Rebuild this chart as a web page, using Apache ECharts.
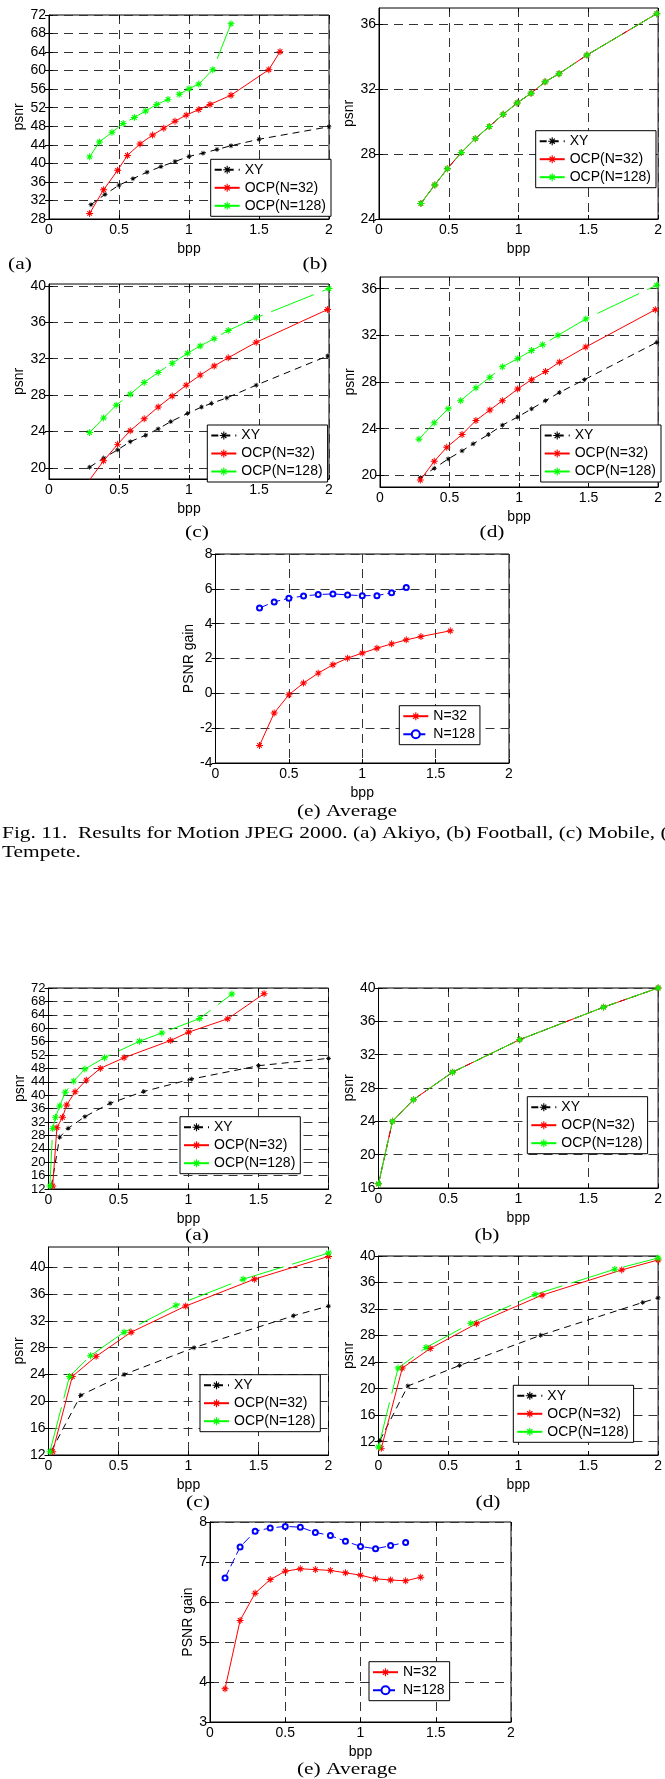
<!DOCTYPE html>
<html>
<head>
<meta charset="utf-8">
<script src="https://cdn.jsdelivr.net/npm/echarts@6/dist/echarts.min.js"></script>
<style>
  html, body { margin: 0; padding: 0; background: #fff; }
  #chart { width: 665px; height: 1779px; }
</style>
</head>
<body>
<div id="chart"></div>
<script>
// ---------- Fig. 11: Motion JPEG 2000 ----------
// (a) Akiyo
const m11a_xy_bpp    = [0.3, 0.4, 0.5, 0.6, 0.7, 0.8, 0.9, 1.0, 1.1, 1.2, 1.3, 1.5, 2.0];
const m11a_xy_psnr   = [31.1, 33.3, 35.3, 36.7, 38.1, 39.3, 40.4, 41.5, 42.2, 43.0, 43.8, 45.2, 47.9];
const m11a_n32_bpp   = [0.29, 0.39, 0.49, 0.56, 0.65, 0.74, 0.82, 0.9, 0.98, 1.07, 1.15, 1.3, 1.57, 1.65];
const m11a_n32_psnr  = [29.2, 34.3, 38.5, 41.7, 44.2, 46.1, 47.6, 49.1, 50.4, 51.6, 52.7, 54.7, 60.2, 64.1];
const m11a_n128_bpp  = [0.29, 0.36, 0.45, 0.53, 0.61, 0.69, 0.77, 0.85, 0.93, 1.0, 1.07, 1.17, 1.3];
const m11a_n128_psnr = [41.4, 44.6, 46.7, 48.6, 49.9, 51.3, 52.7, 53.8, 54.9, 56.1, 57.1, 60.2, 70.1];
// (b) Football: the three coders coincide
const m11b_bpp  = [0.3, 0.4, 0.49, 0.59, 0.69, 0.79, 0.89, 0.99, 1.09, 1.19, 1.29, 1.49, 1.99];
const m11b_psnr = [24.96, 26.1, 27.1, 28.1, 28.95, 29.7, 30.45, 31.15, 31.75, 32.45, 32.95, 34.1, 36.65];
// (c) Mobile
const m11c_xy_bpp    = [0.29, 0.39, 0.49, 0.58, 0.69, 0.78, 0.87, 0.99, 1.09, 1.16, 1.27, 1.48, 1.99];
const m11c_xy_psnr   = [20.1, 21.1, 22.0, 22.9, 23.6, 24.3, 25.1, 26.0, 26.7, 27.1, 27.7, 29.1, 32.3];
const m11c_n32_bpp   = [0.29, 0.39, 0.49, 0.58, 0.68, 0.78, 0.88, 0.98, 1.08, 1.18, 1.28, 1.48, 1.99];
const m11c_n32_psnr  = [18.7, 20.8, 22.6, 24.1, 25.4, 26.7, 27.9, 29.1, 30.2, 31.2, 32.1, 33.8, 37.4];
const m11c_n128_bpp  = [0.29, 0.39, 0.48, 0.58, 0.68, 0.78, 0.88, 0.99, 1.08, 1.18, 1.28, 1.48, 2.0];
const m11c_n128_psnr = [23.9, 25.5, 26.9, 28.1, 29.4, 30.5, 31.5, 32.6, 33.4, 34.2, 35.1, 36.5, 39.7];
// (d) Tempete
const m11d_xy_bpp    = [0.29, 0.39, 0.49, 0.59, 0.67, 0.78, 0.88, 0.99, 1.09, 1.19, 1.29, 1.47, 1.99];
const m11d_xy_psnr   = [19.8, 20.6, 21.4, 22.1, 22.7, 23.5, 24.3, 25.0, 25.7, 26.4, 27.1, 28.2, 31.4];
const m11d_n32_bpp   = [0.29, 0.39, 0.48, 0.59, 0.69, 0.79, 0.88, 0.99, 1.09, 1.19, 1.29, 1.48, 1.98];
const m11d_n32_psnr  = [19.6, 21.2, 22.4, 23.5, 24.7, 25.6, 26.4, 27.4, 28.2, 28.9, 29.7, 31.0, 34.2];
const m11d_n128_bpp  = [0.28, 0.39, 0.49, 0.58, 0.69, 0.79, 0.88, 0.99, 1.09, 1.17, 1.28, 1.48, 1.99];
const m11d_n128_psnr = [23.1, 24.5, 25.7, 26.4, 27.5, 28.4, 29.3, 30.0, 30.7, 31.2, 32.0, 33.4, 36.3];
// (e) Average PSNR gain over XY
const m11e_n32_bpp   = [0.3, 0.4, 0.5, 0.6, 0.7, 0.8, 0.9, 1.0, 1.1, 1.2, 1.3, 1.4, 1.6];
const m11e_n32_gain  = [-2.99, -1.13, -0.08, 0.59, 1.16, 1.64, 2.02, 2.31, 2.59, 2.84, 3.07, 3.26, 3.59];
const m11e_n128_bpp  = [0.3, 0.4, 0.5, 0.6, 0.7, 0.8, 0.9, 1.0, 1.1, 1.2, 1.3];
const m11e_n128_gain = [4.9, 5.25, 5.46, 5.59, 5.67, 5.71, 5.65, 5.61, 5.61, 5.78, 6.07];

// ---------- Fig. 12 ----------
// (a)
const m12a_xy_bpp    = [0.02, 0.08, 0.14, 0.26, 0.44, 0.68, 1.02, 1.5, 2.0];
const m12a_xy_psnr   = [12.7, 27.5, 30.1, 33.6, 37.6, 41.1, 44.8, 48.8, 51.0];
const m12a_n32_bpp   = [0.03, 0.06, 0.1, 0.13, 0.19, 0.27, 0.37, 0.54, 0.87, 1.0, 1.28, 1.54];
const m12a_n32_psnr  = [12.9, 30.3, 33.4, 37.1, 41.0, 44.5, 48.0, 51.2, 56.3, 58.8, 62.8, 70.3];
const m12a_n128_bpp  = [0.01, 0.03, 0.05, 0.08, 0.12, 0.18, 0.26, 0.4, 0.65, 0.81, 1.08, 1.31];
const m12a_n128_psnr = [12.9, 30.1, 33.4, 36.8, 40.9, 44.2, 47.8, 51.2, 56.1, 58.6, 62.9, 70.2];
// (b) the three coders coincide
const m12b_bpp  = [0, 0.1, 0.25, 0.53, 1.01, 1.61, 2.0];
const m12b_psnr = [16.5, 24.0, 26.6, 29.9, 33.8, 37.7, 40.0];
// (c)
const m12c_xy_bpp    = [0.02, 0.23, 0.54, 1.04, 1.75, 2.0];
const m12c_xy_psnr   = [12.6, 20.9, 24.0, 28.0, 32.75, 34.2];
const m12c_n32_bpp   = [0.03, 0.17, 0.34, 0.59, 0.98, 1.47, 2.0];
const m12c_n32_psnr  = [12.5, 23.7, 26.7, 30.3, 34.2, 38.2, 41.6];
const m12c_n128_bpp  = [0.01, 0.15, 0.3, 0.54, 0.91, 1.39, 2.0];
const m12c_n128_psnr = [12.5, 23.7, 26.8, 30.3, 34.3, 38.2, 42.1];
// (d)
const m12d_xy_bpp    = [0.01, 0.21, 0.58, 1.16, 1.89, 2.0];
const m12d_xy_psnr   = [12.2, 20.4, 23.5, 28.05, 33.0, 33.7];
const m12d_n32_bpp   = [0.02, 0.17, 0.37, 0.7, 1.17, 1.74, 2.0];
const m12d_n32_psnr  = [11.0, 23.1, 26.05, 29.8, 34.1, 37.9, 39.4];
const m12d_n128_bpp  = [0.0, 0.14, 0.34, 0.66, 1.12, 1.69, 2.0];
const m12d_n128_psnr = [11.2, 23.1, 26.2, 29.85, 34.2, 38.0, 39.7];
// (e) Average PSNR gain
const m12e_n32_bpp   = [0.1, 0.2, 0.3, 0.4, 0.5, 0.6, 0.7, 0.8, 0.9, 1.0, 1.1, 1.2, 1.3, 1.4];
const m12e_n32_gain  = [3.83, 5.54, 6.22, 6.56, 6.77, 6.83, 6.81, 6.79, 6.73, 6.67, 6.58, 6.55, 6.53, 6.62];
const m12e_n128_bpp  = [0.1, 0.2, 0.3, 0.4, 0.5, 0.6, 0.7, 0.8, 0.9, 1.0, 1.1, 1.2, 1.3];
const m12e_n128_gain = [6.6, 7.375, 7.77, 7.85, 7.89, 7.87, 7.74, 7.66, 7.52, 7.39, 7.33, 7.41, 7.49];

// ---------- tick labels ----------
const bppTicks     = [0, 0.5, 1, 1.5, 2];
const psnrTicks11a = [28, 32, 36, 40, 44, 48, 52, 56, 60, 64, 68, 72];
const psnrTicks11b = [24, 28, 32, 36];
const psnrTicks11c = [20, 24, 28, 32, 36, 40];
const psnrTicks11d = [20, 24, 28, 32, 36];
const gainTicks11e = [-4, -2, 0, 2, 4, 6, 8];
const psnrTicks12a = [12, 16, 20, 24, 28, 32, 36, 40, 44, 48, 52, 56, 60, 64, 68, 72];
const psnrTicks12b = [16, 20, 24, 28, 32, 36, 40];
const psnrTicks12c = [12, 16, 20, 24, 28, 32, 36, 40];
const psnrTicks12d = [12, 16, 20, 24, 28, 32, 36, 40];
const gainTicks12e = [3, 4, 5, 6, 7, 8];

// legend names
const namesCodec = ['XY', 'OCP(N=32)', 'OCP(N=128)'];
const namesGain  = ['N=32', 'N=128'];

// ---------- styling ----------
const SANS = 'Liberation Sans';
const SERIF = 'Liberation Serif';
const RED = '#ff0000', GREEN = '#00ff00', BLUE = '#0000ff', BLACK = '#000000';
// eight-armed asterisk marker
const STAR = 'path://M0,4.3L10,4.3L10,5.7L0,5.7Z M4.3,0L5.7,0L5.7,10L4.3,10Z ' +
             'M1.18,2.32L2.32,1.18L8.82,7.68L7.68,8.82Z M8.82,2.32L2.32,8.82L1.18,7.68L7.68,1.18Z';

// panel layout: plot rectangle in page pixels, y range, ticks, legend corner
const panels = [
  { l: 49,  t: 15,   w: 280, h: 204, y: [28, 72],     yt: psnrTicks11a, yn: 'psnr',      lg: [210.7, 159.3], names: namesCodec, yGap: 16, fs: 14 },
  { l: 379, t: 8,    w: 282, h: 211, y: [24, 37],     yt: psnrTicks11b, yn: 'psnr',      lg: [535.7, 130.7], names: namesCodec, yGap: 16, fs: 14 },
  { l: 49,  t: 284,  w: 280, h: 195, y: [18.8, 40.2], yt: psnrTicks11c, yn: 'psnr',      lg: [207.3, 425],   names: namesCodec, yGap: 16, fs: 14 },
  { l: 380, t: 277,  w: 281, h: 210, y: [19, 37],     yt: psnrTicks11d, yn: 'psnr',      lg: [540.7, 425],   names: namesCodec, yGap: 16, fs: 14 },
  { l: 215.5, t: 554, w: 293.5, h: 209, y: [-4, 8],   yt: gainTicks11e, yn: 'PSNR gain', lg: [399.3, 705.7], names: namesGain,  yGap: 12, fs: 14 },
  { l: 48.5, t: 988,  w: 280, h: 201, y: [12, 72],    yt: psnrTicks12a, yn: 'psnr',      lg: [180, 1116.7],  names: namesCodec, yGap: 16, fs: 13 },
  { l: 378.5, t: 988, w: 280, h: 200, y: [16, 40],    yt: psnrTicks12b, yn: 'psnr',      lg: [527.3, 1096.7], names: namesCodec, yGap: 16, fs: 14 },
  { l: 48.5, t: 1247, w: 280, h: 208, y: [12, 43],    yt: psnrTicks12c, yn: 'psnr',      lg: [200, 1374.7],  names: namesCodec, yGap: 16, fs: 14 },
  { l: 378.5, t: 1256, w: 282, h: 199, y: [10, 40],   yt: psnrTicks12d, yn: 'psnr',      lg: [513.3, 1385.3], names: namesCodec, yGap: 16, fs: 14 },
  { l: 210, t: 1522,  w: 301, h: 200, y: [3, 8],      yt: gainTicks12e, yn: 'PSNR gain', lg: [369, 1661.7],  names: namesGain,  yGap: 7, fs: 14 }
];

const pairs = (xs, ys) => xs.map((x, i) => [x, ys[i]]);

function curve(name, panel, xs, ys, color, kind) {
  const s = {
    type: 'line', name,
    xAxisIndex: panel, yAxisIndex: panel,
    data: pairs(xs, ys),
    symbol: STAR, symbolSize: 7,
    lineStyle: { color, width: 1, type: 'solid' },
    itemStyle: { color },
    silent: true, animation: false, clip: true
  };
  if (kind === 'xy')   { s.lineStyle.type = [7, 5]; s.symbolSize = 5; }
  if (kind === 'long') { s.lineStyle.type = [46, 9]; }
  if (kind === 'ring') {
    s.symbol = 'emptyCircle'; s.symbolSize = 5;
    s.lineStyle.type = [9, 4];
    s.itemStyle = { color, borderColor: color, borderWidth: 1 };
  }
  return s;
}

const series = [
  curve('XY', 0, m11a_xy_bpp, m11a_xy_psnr, BLACK, 'xy'),
  curve('OCP(N=32)', 0, m11a_n32_bpp, m11a_n32_psnr, RED),
  curve('OCP(N=128)', 0, m11a_n128_bpp, m11a_n128_psnr, GREEN, 'long'),

  curve('XY', 1, m11b_bpp, m11b_psnr, BLACK, 'xy'),
  curve('OCP(N=32)', 1, m11b_bpp, m11b_psnr, RED),
  curve('OCP(N=128)', 1, m11b_bpp, m11b_psnr, GREEN, 'long'),

  curve('XY', 2, m11c_xy_bpp, m11c_xy_psnr, BLACK, 'xy'),
  curve('OCP(N=32)', 2, m11c_n32_bpp, m11c_n32_psnr, RED),
  curve('OCP(N=128)', 2, m11c_n128_bpp, m11c_n128_psnr, GREEN, 'long'),

  curve('XY', 3, m11d_xy_bpp, m11d_xy_psnr, BLACK, 'xy'),
  curve('OCP(N=32)', 3, m11d_n32_bpp, m11d_n32_psnr, RED),
  curve('OCP(N=128)', 3, m11d_n128_bpp, m11d_n128_psnr, GREEN, 'long'),

  curve('N=32', 4, m11e_n32_bpp, m11e_n32_gain, RED),
  curve('N=128', 4, m11e_n128_bpp, m11e_n128_gain, BLUE, 'ring'),

  curve('XY', 5, m12a_xy_bpp, m12a_xy_psnr, BLACK, 'xy'),
  curve('OCP(N=32)', 5, m12a_n32_bpp, m12a_n32_psnr, RED),
  curve('OCP(N=128)', 5, m12a_n128_bpp, m12a_n128_psnr, GREEN, 'long'),

  curve('XY', 6, m12b_bpp, m12b_psnr, BLACK, 'xy'),
  curve('OCP(N=32)', 6, m12b_bpp, m12b_psnr, RED),
  curve('OCP(N=128)', 6, m12b_bpp, m12b_psnr, GREEN, 'long'),

  curve('XY', 7, m12c_xy_bpp, m12c_xy_psnr, BLACK, 'xy'),
  curve('OCP(N=32)', 7, m12c_n32_bpp, m12c_n32_psnr, RED),
  curve('OCP(N=128)', 7, m12c_n128_bpp, m12c_n128_psnr, GREEN, 'long'),

  curve('XY', 8, m12d_xy_bpp, m12d_xy_psnr, BLACK, 'xy'),
  curve('OCP(N=32)', 8, m12d_n32_bpp, m12d_n32_psnr, RED),
  curve('OCP(N=128)', 8, m12d_n128_bpp, m12d_n128_psnr, GREEN, 'long'),

  curve('N=32', 9, m12e_n32_bpp, m12e_n32_gain, RED),
  curve('N=128', 9, m12e_n128_bpp, m12e_n128_gain, BLUE, 'ring')
];

const axisText = { fontFamily: SANS, fontSize: 14, color: '#000' };
const gridDash = { color: '#333', width: 1, type: [9, 6] };

const grids = panels.map(p => ({
  left: p.l, top: p.t, width: p.w, height: p.h,
  show: true, borderColor: '#000', borderWidth: 1, backgroundColor: 'transparent',
  containLabel: false
}));

// main axes (bottom/left) then mirrored tick-only axes (top/right)
const xAxes = panels.map((p, i) => ({
  type: 'value', gridIndex: i, min: 0, max: 2, position: 'bottom',
  name: 'bpp', nameLocation: 'middle', nameGap: 23,
  nameTextStyle: axisText,
  axisLine: { show: true, onZero: false, lineStyle: { color: '#000', width: 1 } },
  axisTick: { show: true, inside: true, length: 4, customValues: bppTicks, lineStyle: { color: '#000' } },
  axisLabel: { show: true, customValues: bppTicks, margin: 4, ...axisText,
               showMinLabel: true, showMaxLabel: true, hideOverlap: false,
               formatter: v => String(v) },
  splitLine: { show: true, lineStyle: gridDash }
})).concat(panels.map((p, i) => ({
  type: 'value', gridIndex: i, min: 0, max: 2, position: 'top',
  axisLine: { show: false },
  axisTick: { show: true, inside: true, length: 4, customValues: bppTicks, lineStyle: { color: '#000' } },
  axisLabel: { show: false },
  splitLine: { show: false }
})));

const yAxes = panels.map((p, i) => ({
  type: 'value', gridIndex: i, min: p.y[0], max: p.y[1], position: 'left',
  name: p.yn, nameLocation: 'middle', nameGap: p.yGap, nameRotate: 90,
  nameTextStyle: axisText,
  axisLine: { show: true, onZero: false, lineStyle: { color: '#000', width: 1 } },
  axisTick: { show: true, inside: true, length: 4, customValues: p.yt, lineStyle: { color: '#000' } },
  axisLabel: { show: true, customValues: p.yt, margin: 3, ...axisText, fontSize: p.fs,
               showMinLabel: true, showMaxLabel: true, hideOverlap: false,
               formatter: v => String(v) },
  splitLine: { show: true, lineStyle: gridDash }
})).concat(panels.map((p, i) => ({
  type: 'value', gridIndex: i, min: p.y[0], max: p.y[1], position: 'right',
  axisLine: { show: false },
  axisTick: { show: true, inside: true, length: 4, customValues: p.yt, lineStyle: { color: '#000' } },
  axisLabel: { show: false },
  splitLine: { show: false }
})));

const legends = panels.map(p => ({
  data: p.names, orient: 'vertical',
  left: p.lg[0], top: p.lg[1],
  backgroundColor: '#fff', borderColor: '#000', borderWidth: 1,
  padding: [3, 5, 3, 3], itemGap: 3, itemWidth: 25, itemHeight: 10,
  textStyle: { fontFamily: SANS, fontSize: 14, color: '#000', lineHeight: 15 },
  selectedMode: false, inactiveColor: '#000'
}));

// serif captions, widened to the proportions of the printed page
function label(text, x, y, size, align) {
  return {
    type: 'text', x, y, silent: true, scaleX: 1.26,
    style: { text, fontFamily: SERIF, fontSize: size, fill: '#000',
             align: align || 'center', verticalAlign: 'middle' }
  };
}

const graphic = [
  label('(a)', 20, 265, 17),
  label('(b)', 315, 265, 17),
  label('(c)', 197, 533, 17),
  label('(d)', 492, 533, 17),
  label('(e) Average', 347, 812, 17),
  label('Fig. 11.  Results for Motion JPEG 2000. (a) Akiyo, (b) Football, (c) Mobile, (d)', 2, 834, 17, 'left'),
  label('Tempete.', 2, 853, 17, 'left'),
  label('(a)', 197, 1236, 17),
  label('(b)', 487, 1236, 17),
  label('(c)', 198, 1503, 17),
  label('(d)', 488, 1503, 17),
  label('(e) Average', 347, 1770, 17)
];

const chart = echarts.init(document.getElementById('chart'), null, { renderer: 'canvas' });
chart.setOption({
  animation: false,
  backgroundColor: '#fff',
  grid: grids,
  xAxis: xAxes,
  yAxis: yAxes,
  legend: legends,
  series,
  graphic
});
</script>
</body>
</html>
